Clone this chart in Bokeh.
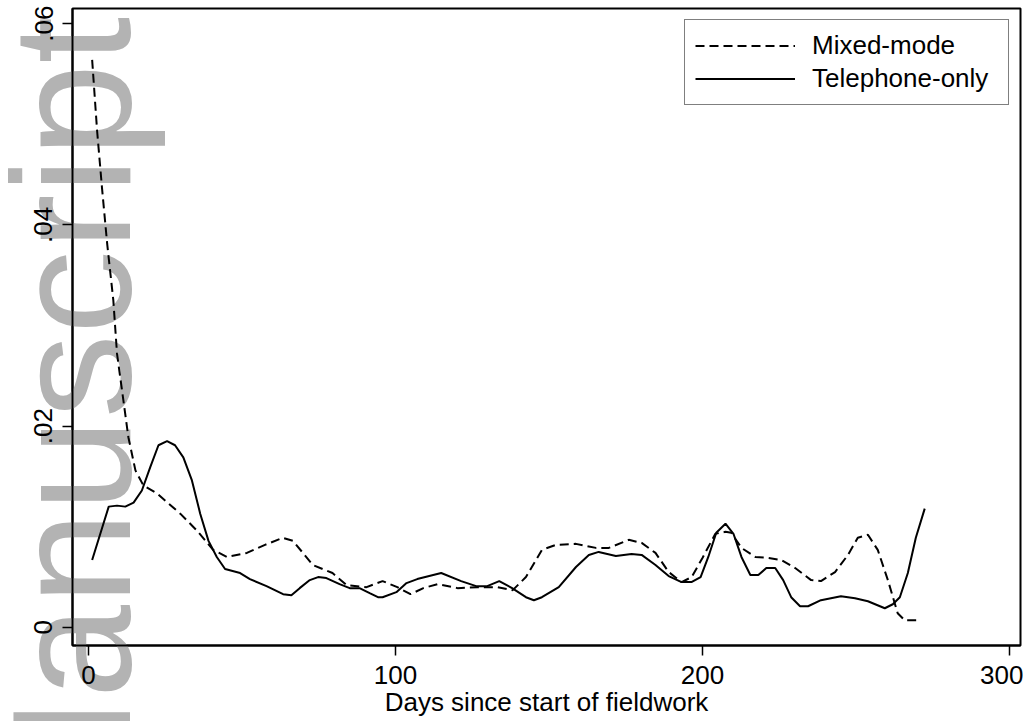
from bokeh.plotting import figure
from bokeh.models import (Range1d, FixedTicker, CustomJSTickFormatter, Legend,
                          LegendItem, Title)
from bokeh.embed import file_html
from bokeh.resources import INLINE

# ---- data ----
mixed_x = [1.2, 2.8, 4.4, 6.1, 8.1, 9.3, 11.4, 13.0, 15.3, 17.9, 22.4, 29.9,
           35.4, 40.6, 45.1, 51.6, 57.5, 63.3, 66.6, 73.1, 79.5, 84.1, 90.6,
           95.8, 100.6, 104.9, 109.1, 113.7, 120.2, 126.7, 133.2, 138.2, 142.5,
           147.7, 152.3, 158.8, 165.3, 169.5, 176.0, 180.2, 184.7, 189.0, 193.2,
           196.5, 200.0, 204.2, 207.5, 209.4, 212.7, 217.2, 221.4, 225.6, 230.2,
           235.4, 238.6, 243.2, 247.4, 250.6, 253.9, 257.1, 260.4, 263.6, 265.9,
           270.1]
mixed_y = [0.0564, 0.0494, 0.0437, 0.0381, 0.0325, 0.0272, 0.0225, 0.0189,
           0.0156, 0.0141, 0.0133, 0.0113, 0.0096, 0.0077, 0.0070, 0.0074,
           0.0082, 0.0089, 0.0086, 0.0062, 0.0054, 0.0042, 0.0040, 0.0046,
           0.0040, 0.0033, 0.0039, 0.0043, 0.0039, 0.0040, 0.0040, 0.0037,
           0.0050, 0.0077, 0.0082, 0.0083, 0.0079, 0.0079, 0.0087, 0.0084,
           0.0074, 0.0055, 0.0045, 0.0050, 0.0069, 0.0093, 0.0095, 0.0094,
           0.0079, 0.0070, 0.0069, 0.0067, 0.0059, 0.0047, 0.0046, 0.0055,
           0.0072, 0.0089, 0.0092, 0.0077, 0.0047, 0.0014, 0.0007, 0.0007]

tel_x = [1.2, 6.6, 9.3, 12.0, 14.7, 17.4, 20.1, 22.8, 25.6, 28.2, 30.9, 33.7,
         36.4, 39.1, 41.8, 44.5, 49.4, 52.6, 58.0, 63.4, 66.1, 68.8, 72.1, 74.8,
         77.5, 81.8, 85.1, 88.3, 91.6, 94.3, 95.8, 100.3, 103.6, 107.1, 114.9,
         121.4, 126.3, 129.9, 133.8, 138.0, 142.5, 145.1, 147.7, 153.2, 158.8,
         163.0, 166.2, 171.8, 176.9, 180.2, 184.7, 189.0, 193.2, 196.4, 199.4,
         201.9, 204.5, 207.5, 210.1, 212.7, 215.6, 218.2, 220.8, 223.7, 226.3,
         228.9, 231.8, 234.4, 238.6, 245.1, 249.7, 253.9, 259.4, 262.0, 264.3,
         266.9, 269.5, 272.4]
tel_y = [0.0067, 0.0120, 0.0121, 0.0120, 0.0124, 0.0136, 0.0159, 0.0181,
         0.0185, 0.0181, 0.0169, 0.0146, 0.0113, 0.0086, 0.0070, 0.0058,
         0.0054, 0.0048, 0.0041, 0.0033, 0.0032, 0.0039, 0.0047, 0.0050,
         0.0049, 0.0043, 0.0039, 0.0039, 0.0034, 0.0030, 0.0030, 0.0035,
         0.0044, 0.0048, 0.0054, 0.0046, 0.0041, 0.0041, 0.0046, 0.0039,
         0.0030, 0.0027, 0.0030, 0.0040, 0.0060, 0.0072, 0.0075, 0.0071,
         0.0073, 0.0072, 0.0062, 0.0051, 0.0045, 0.0045, 0.0050, 0.0070,
         0.0094, 0.0103, 0.0093, 0.0070, 0.0052, 0.0052, 0.0059, 0.0059,
         0.0047, 0.0030, 0.0021, 0.0021, 0.0027, 0.0031, 0.0029, 0.0026,
         0.0019, 0.0023, 0.0030, 0.0054, 0.0089, 0.0118]

y_ticks = [0, 0.02, 0.04, 0.06]
x_ticks = [0, 100, 200, 300]
series_names = ["Mixed-mode", "Telephone-only"]
x_title = "Days since start of fieldwork"
watermark = "Manuscript"

FONT = "Liberation Sans"

p = figure(width=1023, height=721,
           x_range=Range1d(-5.2, 303.6), y_range=Range1d(-0.0018, 0.0615),
           output_backend="svg", toolbar_location=None,
           min_border_left=72, min_border_right=3, min_border_top=8,
           min_border_bottom=76)
p.xgrid.visible = False
p.ygrid.visible = False
p.background_fill_color = "white"
p.border_fill_color = "white"
p.outline_line_color = "black"
p.outline_line_width = 2
p.outline_line_alpha = 1

r_mixed = p.line(mixed_x, mixed_y, line_color="black", line_width=2,
                 line_dash="9 5", level="overlay")
r_tel = p.line(tel_x, tel_y, line_color="black", line_width=2,
               level="overlay")

for ax in (p.xaxis[0], p.yaxis[0]):
    ax.level = "overlay"
    ax.axis_line_color = "black"
    ax.axis_line_width = 2
    ax.major_tick_line_color = "black"
    ax.major_tick_line_width = 1.5
    ax.major_tick_out = 10
    ax.major_tick_in = 0
    ax.minor_tick_line_color = None
    ax.major_label_text_font = FONT
    ax.major_label_text_font_size = "26px"
    ax.major_label_text_color = "black"

p.xaxis.ticker = FixedTicker(ticks=x_ticks)
p.xaxis.major_label_standoff = 10
p.xaxis.axis_label = x_title
p.xaxis.axis_label_text_font = FONT
p.xaxis.axis_label_text_font_size = "26px"
p.xaxis.axis_label_text_font_style = "normal"
p.xaxis.axis_label_text_color = "black"
p.xaxis.axis_label_standoff = 0

p.yaxis.ticker = FixedTicker(ticks=y_ticks)
p.yaxis.formatter = CustomJSTickFormatter(
    code="return tick == 0 ? '0' : tick.toFixed(2).replace(/^0/, '');")
p.yaxis.major_label_orientation = "vertical"
p.yaxis.major_label_standoff = 10

# gray watermark in the left margin (side panel => not clipped to the frame),
# drawn before the curves and axes, which sit on the overlay level
wm = Title(text=watermark, text_font=FONT, text_font_size="168px",
           text_color="#b3b3b3", text_font_style="normal",
           align="left", vertical_align="bottom",
           standoff=-268, offset=-193, level="annotation")
p.add_layout(wm, "left")

legend = Legend(items=[LegendItem(label=series_names[0], renderers=[r_mixed]),
                       LegendItem(label=series_names[1], renderers=[r_tel])],
                location="top_right", margin=11, padding=10, spacing=2,
                glyph_width=100, glyph_height=31, label_standoff=17,
                label_width=186, label_height=31,
                label_text_font=FONT, label_text_font_size="26px",
                label_text_color="black",
                border_line_color="black", border_line_width=1.5,
                background_fill_color="white", background_fill_alpha=1,
                level="overlay")
p.add_layout(legend)

open("out.html", "w").write(file_html(p, INLINE))
